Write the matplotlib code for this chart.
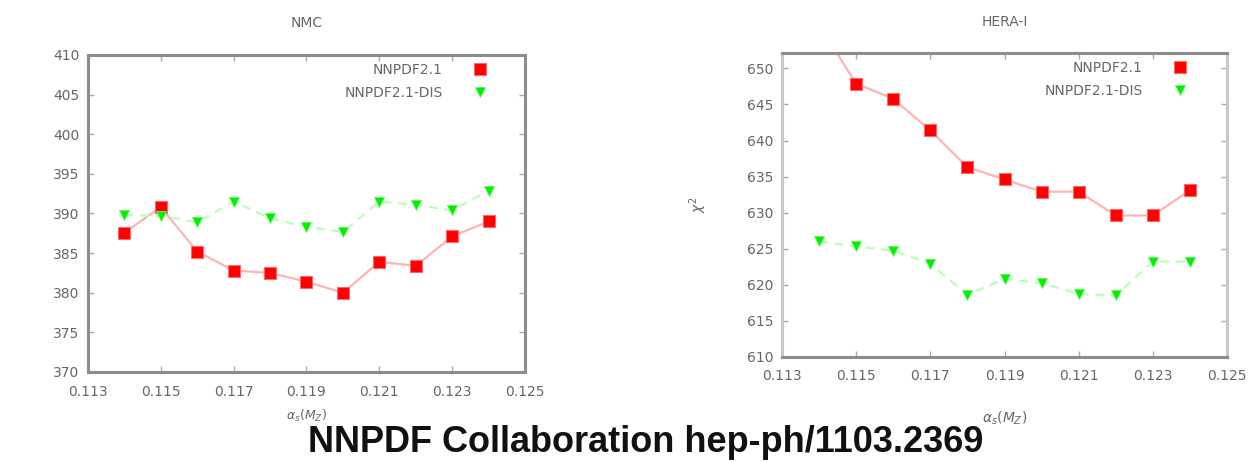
import matplotlib
matplotlib.use("Agg")
import matplotlib.pyplot as plt
from matplotlib.lines import Line2D

# ---- data ----
alphas = [0.114, 0.115, 0.116, 0.117, 0.118, 0.119, 0.120, 0.121, 0.122, 0.123, 0.124]
nmc_nnpdf21 = [387.6, 390.8, 385.2, 382.8, 382.5, 381.4, 380.0, 383.9, 383.4, 387.1, 389.0]
nmc_dis = [389.8, 389.7, 388.9, 391.5, 389.4, 388.3, 387.7, 391.5, 391.1, 390.4, 392.9]
hera_nnpdf21 = [656.0, 647.9, 645.8, 641.4, 636.3, 634.6, 632.9, 632.9, 629.6, 629.6, 633.1]
hera_dis = [626.0, 625.3, 624.7, 622.9, 618.6, 620.8, 620.2, 618.7, 618.5, 623.2, 623.2]

xticks = [0.113, 0.115, 0.117, 0.119, 0.121, 0.123, 0.125]
xticklabels = ["0.113", "0.115", "0.117", "0.119", "0.121", "0.123", "0.125"]
nmc_yticks = [370, 375, 380, 385, 390, 395, 400, 405, 410]
hera_yticks = [610, 615, 620, 625, 630, 635, 640, 645, 650]
labels = ["NNPDF2.1", "NNPDF2.1-DIS"]
titles = ["NMC", "HERA-I"]
xlabel = r"$\alpha_s(M_Z)$"
caption = "NNPDF Collaboration hep-ph/1103.2369"

RED = "#ff0000"
PINK = "#ffb3b3"
GREEN = "#00ee00"
LGREEN = "#b8ffb8"
FRAME = "#8c8c8c"
TXT = "#666666"

fig = plt.figure(figsize=(12.51, 4.62), dpi=100)
ax1 = fig.add_axes([88/1251, 1-372/462, (525-88)/1251, (372-55)/462])
ax2 = fig.add_axes([782/1251, 1-356.7/462, (1227-782)/1251, (356.7-53.3)/462])

def draw(ax, red, green, ylim, yticks, title, xlab_y, xlab_size, legx, legy):
    ax.plot(alphas, red, color=PINK, lw=1.6, zorder=2)
    ax.plot(alphas, green, color=LGREEN, lw=1.6, ls=(0, (4, 3)), zorder=2)
    ax.plot(alphas, red, ls="none", marker="s", ms=9, color=RED,
            mec="#ff6666", mew=0.8, zorder=3)
    ax.plot(alphas, green, ls="none", marker="v", ms=7.5, color=GREEN,
            mec="#55ff55", mew=0.6, zorder=4)
    ax.set_xlim(0.113, 0.125)
    ax.set_ylim(*ylim)
    ax.set_xticks(xticks)
    ax.set_xticklabels(xticklabels)
    ax.set_yticks(yticks)
    ax.set_yticklabels([str(v) for v in yticks])
    ax.tick_params(direction="in", top=True, right=True, length=4,
                   width=1, color="#aaaaaa", labelcolor=TXT, labelsize=10)
    ax.tick_params(axis="x", pad=9)
    ax.tick_params(axis="y", pad=6)
    for s in ax.spines.values():
        s.set_color(FRAME)
        s.set_linewidth(2.2)
    ax.set_title(title, color=TXT, fontsize=10, pad=20)
    ax.set_xlabel(xlabel, color=TXT, fontsize=xlab_size)
    ax.xaxis.set_label_coords(0.5, xlab_y)
    handles = [Line2D([], [], ls="none", marker="s", ms=9, color=RED, mec="#ff6666", mew=0.8),
               Line2D([], [], ls="none", marker="v", ms=7.5, color=GREEN, mec="#55ff55", mew=0.6)]
    leg = ax.legend(handles, labels, loc="upper right", bbox_to_anchor=(legx, legy),
                    frameon=False, markerfirst=False, fontsize=10, handlelength=1.0,
                    handletextpad=2.2, labelspacing=0.65, borderpad=0, borderaxespad=0)
    for t in leg.get_texts():
        t.set_color(TXT)

draw(ax1, nmc_nnpdf21, nmc_dis, (370, 410), nmc_yticks, titles[0], -0.112, 9, 0.913, 0.975)
draw(ax2, hera_nnpdf21, hera_dis, (610, 652.1), hera_yticks, titles[1], -0.176, 10, 0.91, 0.974)

ax2.set_ylabel(r"$\chi^2$", color=TXT, fontsize=10)
ax2.yaxis.set_label_coords(-0.164, 0.5)
ax2.spines["left"].set_color("#c8c8c8")
ax2.spines["right"].set_color("#c8c8c8")

fig.text(0.516, 0.0216, caption, ha="center", va="baseline",
         fontsize=26, fontweight="bold", family="Liberation Sans", color="#111111")

fig.savefig("out.png", dpi=100)
